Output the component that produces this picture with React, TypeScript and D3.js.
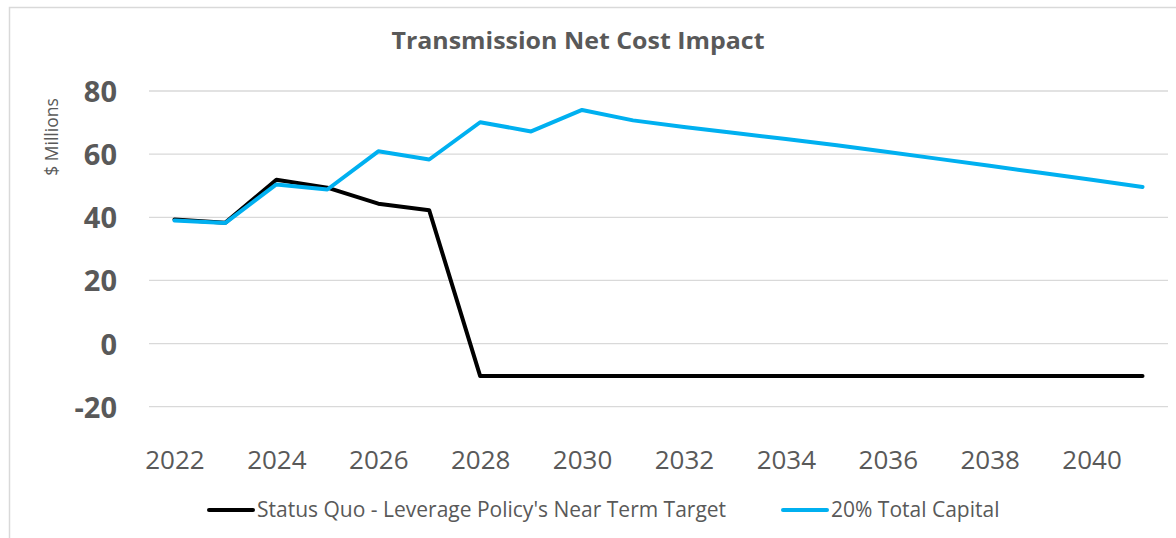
import React, { useRef, useEffect } from 'react';
import * as d3 from 'd3';

const years = d3.range(2022, 2042);
const tickYears = [2022, 2024, 2026, 2028, 2030, 2032, 2034, 2036, 2038, 2040];
const yTicks = [-20, 0, 20, 40, 60, 80];

const statusQuo = [39.3, 38.3, 51.9, 49.4, 44.3, 42.2, -10.3, -10.3, -10.3, -10.3,
    -10.3, -10.3, -10.3, -10.3, -10.3, -10.3, -10.3, -10.3, -10.3, -10.3];
const totalCapital = [39.0, 38.2, 50.4, 48.8, 60.9, 58.3, 70.1, 67.2, 74.0, 70.7,
    68.6, 66.7, 64.8, 62.8, 60.7, 58.5, 56.3, 54.1, 51.9, 49.6];

const seriesNames = ["Status Quo - Leverage Policy's Near Term Target", "20% Total Capital"];
const seriesColors = ["#000000", "#00B0F0"];

const App = () => {
    const chartRef = useRef<SVGSVGElement>(null);

    useEffect(() => {
        const width = 1176;
        const height = 538;
        const plotLeft = 149;
        const plotRight = 1168;
        const plotTop = 91;
        const plotBottom = 406.7;
        const textColor = "#595959";
        const font = "'Open Sans', 'Noto Sans', sans-serif";

        const svg = d3.select(chartRef.current)
            .attr("width", width)
            .attr("height", height);
        svg.selectAll("*").remove();

        svg.append("rect")
            .attr("width", width).attr("height", height).attr("fill", "#fff");

        // chart frame (runs off the right and bottom edge)
        svg.append("rect")
            .attr("x", 9.5).attr("y", 7.5)
            .attr("width", 1300).attr("height", 700)
            .attr("fill", "none")
            .attr("stroke", "#d9d9d9")
            .attr("stroke-width", 1.5);

        const x = d3.scalePoint<number>()
            .domain(years)
            .range([plotLeft, plotRight])
            .padding(0.5);

        const y = d3.scaleLinear()
            .domain([-20, 80])
            .range([plotBottom, plotTop]);

        // gridlines
        svg.append("g")
            .selectAll("line")
            .data(yTicks)
            .join("line")
            .attr("x1", plotLeft).attr("x2", plotRight)
            .attr("y1", d => y(d)).attr("y2", d => y(d))
            .attr("stroke", "#d9d9d9")
            .attr("stroke-width", 1.3);

        // y axis labels
        svg.append("g")
            .attr("transform", `translate(117,0)`)
            .call(d3.axisLeft(y).tickValues(yTicks).tickSize(0).tickPadding(0).tickFormat(d => String(d)))
            .call(g => g.select(".domain").remove())
            .call(g => g.selectAll("text")
                .attr("fill", textColor)
                .attr("font-family", font)
                .attr("font-weight", "bold")
                .attr("font-size", 29)
                .attr("dy", "0.36em"));

        // x axis labels
        svg.append("g")
            .attr("transform", `translate(0,451)`)
            .call(d3.axisBottom(x).tickValues(tickYears).tickSize(0).tickPadding(0).tickFormat(d => String(d)))
            .call(g => g.select(".domain").remove())
            .call(g => g.selectAll("text")
                .attr("fill", textColor)
                .attr("font-family", font)
                .attr("font-size", 26)
                .attr("dy", "0.7em"));

        // y axis title
        svg.append("text")
            .attr("transform", `translate(58,137) rotate(-90)`)
            .attr("text-anchor", "middle")
            .attr("fill", textColor)
            .attr("font-family", font)
            .attr("font-size", 17.5)
            .text("$ Millions");

        // chart title
        svg.append("text")
            .attr("x", 578).attr("y", 49)
            .attr("text-anchor", "middle")
            .attr("fill", textColor)
            .attr("font-family", font)
            .attr("font-weight", "bold")
            .attr("font-size", 23)
            .attr("textLength", 373)
            .attr("lengthAdjust", "spacingAndGlyphs")
            .text("Transmission Net Cost Impact");

        const line = d3.line<number>()
            .x((d, i) => x(years[i]) as number)
            .y(d => y(d));

        [statusQuo, totalCapital].forEach((values, i) => {
            svg.append("path")
                .datum(values)
                .attr("fill", "none")
                .attr("stroke", seriesColors[i])
                .attr("stroke-width", 4)
                .attr("stroke-linejoin", "round")
                .attr("stroke-linecap", "round")
                .attr("d", line);
        });

        // legend
        const legendItems = [{ x: 209, name: seriesNames[0], color: seriesColors[0] },
            { x: 783, name: seriesNames[1], color: seriesColors[1] }];
        const legend = svg.append("g").selectAll("g").data(legendItems).join("g")
            .attr("transform", d => `translate(${d.x},510)`);
        legend.append("line")
            .attr("x1", 0).attr("x2", 44)
            .attr("stroke", d => d.color)
            .attr("stroke-width", 4)
            .attr("stroke-linecap", "round");
        legend.append("text")
            .attr("x", 48).attr("y", 7)
            .attr("fill", textColor)
            .attr("font-family", font)
            .attr("font-size", 21)
            .text(d => d.name);
    }, []);

    return <svg ref={chartRef} style={{ position: 'absolute', left: 0, top: 0, display: 'block' }}></svg>;
}

export default App;
